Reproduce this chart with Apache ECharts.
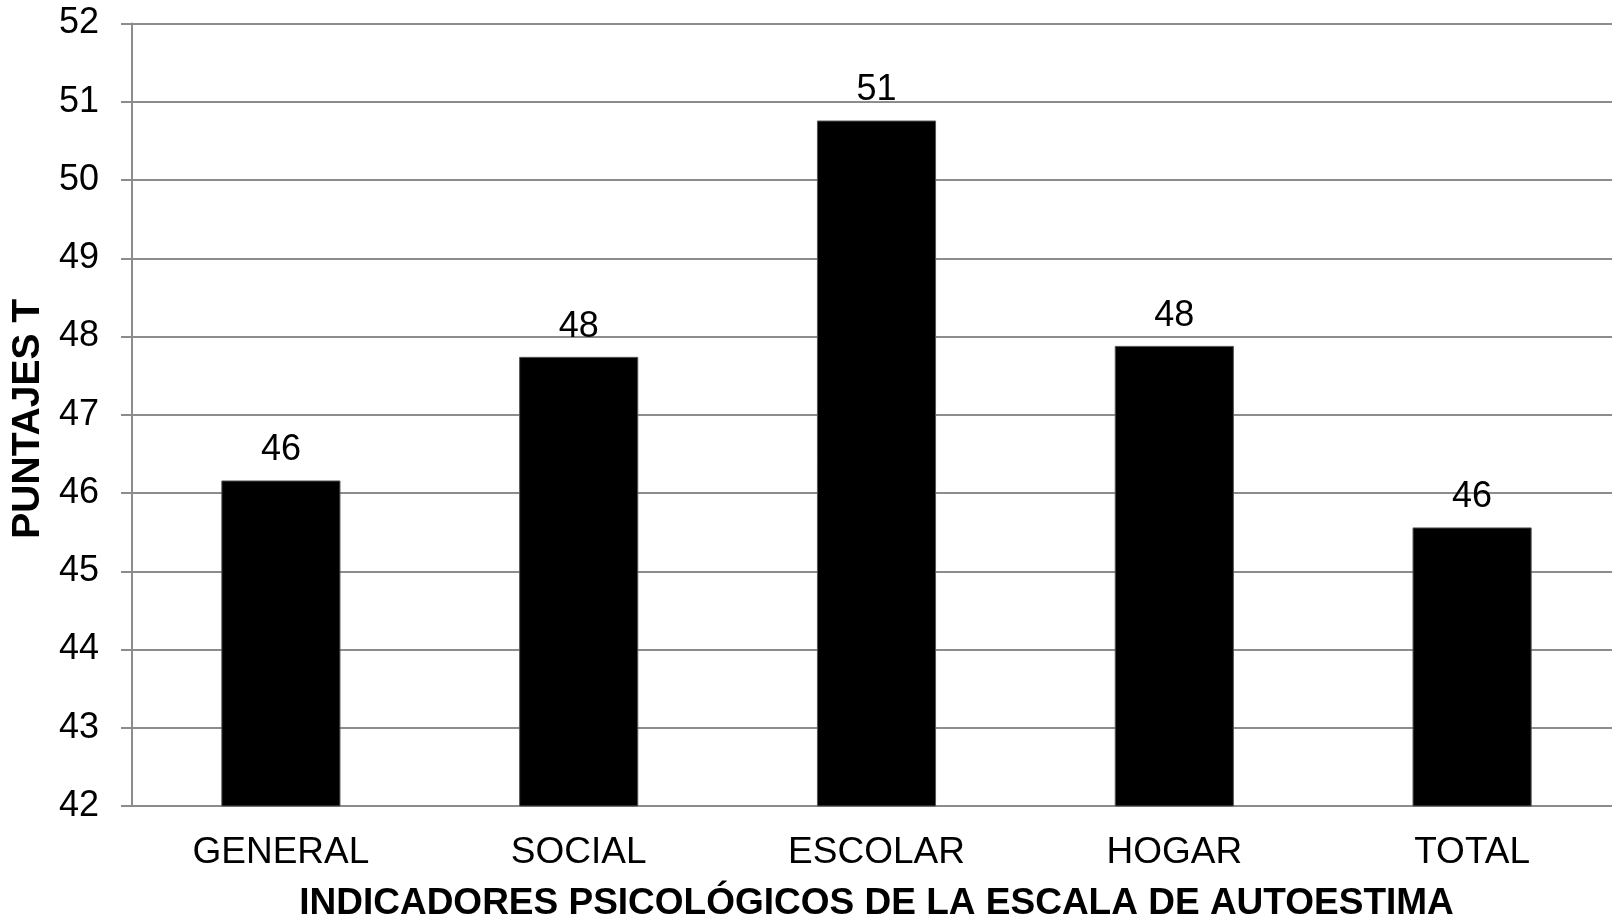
<!DOCTYPE html>
<html>
<head>
<meta charset="utf-8">
<script src="https://cdn.jsdelivr.net/npm/echarts@6/dist/echarts.min.js"></script>
<style>
  html, body { margin: 0; padding: 0; background: #fff; }
  #chart { width: 1612px; height: 919px; }
</style>
</head>
<body>
<div id="chart"></div>
<script>
const categories = ['GENERAL', 'SOCIAL', 'ESCOLAR', 'HOGAR', 'TOTAL'];
const puntajes = [46.16, 47.74, 50.76, 47.88, 45.56];
const yMin = 42;
const yMax = 52;

const font = '"Liberation Sans", Arial, sans-serif';
const gridGray = '#8c8c8c';

const chart = echarts.init(document.getElementById('chart'));

const option = {
  backgroundColor: '#fff',
  animation: false,
  grid: {
    left: 132,
    right: -9,
    top: 23.5,
    bottom: 113,
    containLabel: false,
    outerBoundsMode: 'none'
  },
  xAxis: {
    type: 'category',
    data: categories,
    name: 'INDICADORES PSICOLÓGICOS DE LA ESCALA DE AUTOESTIMA',
    nameLocation: 'middle',
    nameGap: 79,
    nameTextStyle: {
      color: '#000',
      fontFamily: font,
      fontWeight: 'bold',
      fontSize: 37
    },
    axisLine: { lineStyle: { color: gridGray, width: 2 } },
    axisTick: { show: false },
    axisLabel: {
      color: '#000',
      fontFamily: font,
      fontSize: 37,
      margin: 28
    }
  },
  yAxis: {
    type: 'value',
    min: yMin,
    max: yMax,
    interval: 1,
    name: 'PUNTAJES T',
    nameLocation: 'middle',
    nameGap: 83,
    nameTextStyle: {
      color: '#000',
      fontFamily: font,
      fontWeight: 'bold',
      fontSize: 39,
      padding: [0, 8, 0, 0]
    },
    axisLine: { show: true, lineStyle: { color: gridGray, width: 2 } },
    axisTick: { show: true, length: 11, lineStyle: { color: gridGray, width: 2 } },
    axisLabel: {
      color: '#000',
      fontFamily: font,
      fontSize: 36,
      margin: 33
    },
    splitLine: { lineStyle: { color: gridGray, width: 2 } }
  },
  series: [{
    type: 'bar',
    data: puntajes,
    barWidth: '40%',
    itemStyle: { color: '#000', borderColor: '#555', borderWidth: 1 },
    label: {
      show: true,
      position: 'top',
      distance: 12,
      color: '#000',
      fontFamily: font,
      fontSize: 36,
      formatter: p => Math.round(p.value)
    }
  }]
};

chart.setOption(option);
</script>
</body>
</html>
